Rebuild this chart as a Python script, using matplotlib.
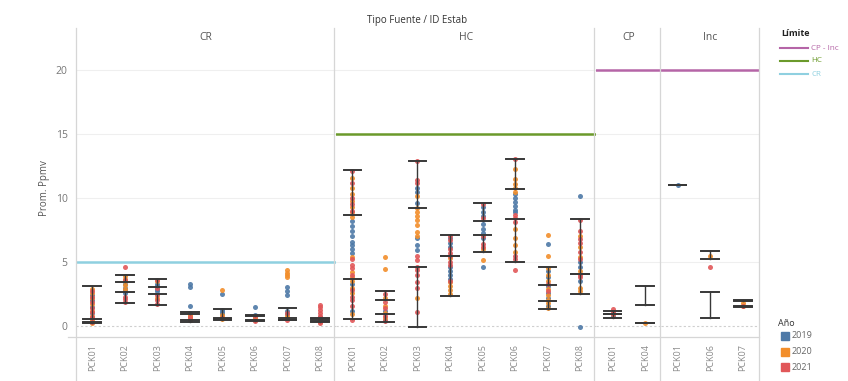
import matplotlib
matplotlib.use("Agg")
import matplotlib.pyplot as plt
from matplotlib.lines import Line2D
from matplotlib.patches import Rectangle

plt.rcParams['font.family'] = ['Open Sans', 'DejaVu Sans']

# ---------------------------------------------------------------- data
panels = ["CR", "HC", "CP", "Inc"]
stations = {
    "CR": ["PCK01", "PCK02", "PCK03", "PCK04", "PCK05", "PCK06", "PCK07", "PCK08"],
    "HC": ["PCK01", "PCK02", "PCK03", "PCK04", "PCK05", "PCK06", "PCK07", "PCK08"],
    "CP": ["PCK01", "PCK04"],
    "Inc": ["PCK01", "PCK06", "PCK07"],
}
years = ["2019", "2020", "2021"]
year_colors = ["#4e79a7", "#f28e2b", "#e15759"]

# limit per source type (ppmv)
limit_cr = 5.0
limit_hc = 15.0
limit_cp_inc = 20.0

# whisker / quartile levels per station
cr_whis_hi = [3.12, 3.98, 3.65, 1.12, 1.33, 0.86, 1.38, 0.65]
cr_q3 = [0.52, 3.46, 3.07, 0.90, 0.62, 0.78, 0.62, 0.55]
cr_q1 = [0.30, 2.63, 2.47, 0.45, 0.52, 0.45, 0.50, 0.42]
cr_whis_lo = [0.21, 1.82, 1.64, 0.34, 0.47, 0.36, 0.47, 0.30]

hc_whis_hi = [12.15, 2.76, 12.89, 7.11, 9.63, 13.05, 4.64, 8.33]
hc_q3 = [8.67, 2.03, 9.24, 5.50, 8.20, 10.68, 3.20, 4.06]
hc_q1 = [3.67, 0.94, 4.64, 5.50, 7.11, 8.36, 1.98, 4.06]
hc_whis_lo = [0.52, 0.34, -0.10, 2.37, 5.75, 4.97, 1.33, 2.48]

cp_whis_hi = [1.20, 3.12]
cp_q3 = [0.91, 1.64]
cp_q1 = [0.91, 0.25]
cp_whis_lo = [0.60, 0.25]

inc_whis_hi = [11.0, 5.86, 2.05]
inc_q3 = [11.0, 5.20, 1.98]
inc_q1 = [11.0, 2.66, 1.55]
inc_whis_lo = [11.0, 0.60, 1.50]

# measured averages per station and year
cr_2019 = {"PCK01": [0.3, 0.6, 1.0, 1.5, 2.0, 2.4], "PCK02": [2.6, 2.8, 3.0, 3.3],
           "PCK03": [2.7, 2.9, 3.1, 3.3], "PCK04": [3.25, 3.05, 1.56, 1.0, 0.9],
           "PCK05": [2.47, 1.25, 1.1, 0.95], "PCK06": [1.51, 0.85, 0.7, 0.6, 0.45],
           "PCK07": [3.07, 2.73, 2.42, 1.2, 0.9], "PCK08": [0.5, 0.7]}
cr_2020 = {"PCK01": [0.2, 0.45, 0.8, 1.2, 1.7, 2.2, 2.6, 2.9], "PCK02": [3.2, 3.5, 3.7, 3.9, 2.9],
           "PCK03": [2.2, 3.5], "PCK04": [0.45, 0.6, 0.75, 0.85, 0.55],
           "PCK05": [2.8, 0.55, 0.7, 0.85], "PCK06": [0.5, 0.65],
           "PCK07": [4.38, 4.17, 3.98, 3.85, 0.6, 0.8], "PCK08": [0.35]}
cr_2021 = {"PCK01": [0.35, 0.7, 1.1, 1.4, 1.9, 2.3, 2.7], "PCK02": [4.64, 1.9, 2.1, 2.3, 3.6],
           "PCK03": [1.7, 2.0, 2.4, 3.6, 3.0], "PCK04": [0.5, 0.7],
           "PCK05": [0.6], "PCK06": [0.4, 0.75],
           "PCK07": [0.5, 1.0], "PCK08": [1.64, 1.45, 1.25, 1.0, 0.8, 0.6, 0.4, 0.25]}

hc_2019 = {"PCK01": [8.2, 7.8, 7.4, 7.0, 6.6, 6.3, 6.0, 5.7, 3.3, 1.2], "PCK02": [0.5, 1.2],
           "PCK03": [10.76, 10.44, 9.6, 6.85, 6.3, 5.94], "PCK04": [6.9, 6.5, 6.2, 4.6, 4.3, 4.0, 3.7],
           "PCK05": [9.3, 8.9, 8.6, 8.0, 7.6, 7.3, 6.9, 4.64], "PCK06": [10.3, 10.0, 9.7, 9.4, 9.1, 8.9],
           "PCK07": [6.43, 4.3, 3.8, 3.1, 2.6, 2.2, 1.6], "PCK08": [10.18, -0.1, 5.0, 4.6, 3.5]}
hc_2020 = {"PCK01": [11.6, 10.8, 10.3, 9.8, 9.3, 8.9, 8.5, 5.4, 4.2, 3.8, 3.5, 3.0, 2.6, 0.9],
           "PCK02": [5.42, 4.43, 2.2, 1.6, 1.0, 0.6],
           "PCK03": [10.18, 9.24, 8.93, 8.6, 8.27, 7.9, 7.37, 7.0, 2.16],
           "PCK04": [3.4, 3.1, 2.8, 2.5, 5.3], "PCK05": [5.16, 6.0],
           "PCK06": [12.3, 11.5, 11.1, 10.8, 10.5, 7.6, 6.9, 6.3, 5.8],
           "PCK07": [7.11, 5.47, 4.5, 4.0, 3.5, 2.9, 2.4, 2.0, 1.8, 1.4],
           "PCK08": [7.0, 6.2, 5.4, 4.3, 3.0, 2.7]}
hc_2021 = {"PCK01": [12.1, 11.2, 10.0, 9.5, 9.0, 5.2, 4.8, 4.5, 4.0, 2.8, 2.3, 2.0, 1.6, 0.5],
           "PCK02": [2.5, 1.9, 1.4, 0.8, 0.4],
           "PCK03": [12.89, 11.38, 11.14, 5.5, 5.16, 4.64, 4.38, 3.99, 3.47, 2.95, 1.12],
           "PCK04": [7.0, 6.7, 6.0, 5.7, 5.5, 5.0, 4.8, 3.5], "PCK05": [9.5, 8.4, 7.0, 6.4, 6.2],
           "PCK06": [13.05, 8.7, 8.4, 8.1, 5.5, 5.2, 4.38], "PCK07": [3.3, 2.7],
           "PCK08": [8.3, 7.4, 6.8, 6.5, 5.8, 5.2, 4.0, 3.8]}

cp_2019 = {"PCK01": [0.8], "PCK04": []}
cp_2020 = {"PCK01": [0.9], "PCK04": [0.25]}
cp_2021 = {"PCK01": [1.3, 1.1, 0.95], "PCK04": []}

inc_2019 = {"PCK01": [11.0], "PCK06": [], "PCK07": []}
inc_2020 = {"PCK01": [], "PCK06": [5.5], "PCK07": [1.6, 1.8]}
inc_2021 = {"PCK01": [], "PCK06": [4.58], "PCK07": [1.55]}

panel_stats = {
    "CR": (cr_whis_hi, cr_q3, cr_q1, cr_whis_lo),
    "HC": (hc_whis_hi, hc_q3, hc_q1, hc_whis_lo),
    "CP": (cp_whis_hi, cp_q3, cp_q1, cp_whis_lo),
    "Inc": (inc_whis_hi, inc_q3, inc_q1, inc_whis_lo),
}
panel_points = {
    "CR": (cr_2019, cr_2020, cr_2021),
    "HC": (hc_2019, hc_2020, hc_2021),
    "CP": (cp_2019, cp_2020, cp_2021),
    "Inc": (inc_2019, inc_2020, inc_2021),
}
panel_limits = {
    "CR": (limit_cr, "#8fd0e0"),
    "HC": (limit_hc, "#6b9a2b"),
    "CP": (limit_cp_inc, "#b565a7"),
    "Inc": (limit_cp_inc, "#b565a7"),
}

# ---------------------------------------------------------------- figure
W, H = 848, 381
fig = plt.figure(figsize=(W / 100, H / 100), dpi=100)

x_left, x_right = 76, 759
y_top, y_bottom = 28, 337
gs = fig.add_gridspec(1, 4, width_ratios=[8, 8, 2, 3], wspace=0,
                      left=x_left / W, right=x_right / W,
                      bottom=1 - y_bottom / H, top=1 - y_top / H)

ymin, ymax = -0.86, 23.28
line_c = "#383838"
cap = 0.27

axes = []
for k, p in enumerate(panels):
    ax = fig.add_subplot(gs[0, k])
    axes.append(ax)
    names = stations[p]
    n = len(names)
    ax.set_xlim(-0.5, n - 0.5)
    ax.set_ylim(ymin, ymax)
    for s in ax.spines.values():
        s.set_visible(False)

    # grid and zero line
    for gy in [5, 10, 15, 20]:
        ax.axhline(gy, color="#efefef", lw=0.8, zorder=0)
    ax.axhline(0, color="#cfcfcf", lw=0.8, ls=(0, (2, 2)), zorder=0)

    # limit reference line
    lim, lc = panel_limits[p]
    ax.axhline(lim, color=lc, lw=1.8, zorder=1)

    # points per year
    for yi, pts in enumerate(panel_points[p]):
        for i, st in enumerate(names):
            vals = pts.get(st, [])
            if vals:
                ax.scatter([i] * len(vals), vals, s=13, color=year_colors[yi],
                           linewidths=0, alpha=0.9, zorder=2)

    # whiskers and quartile caps
    whi, q3, q1, wlo = panel_stats[p]
    for i in range(n):
        ax.plot([i, i], [q3[i], whi[i]], color=line_c, lw=1.0, zorder=3)
        ax.plot([i, i], [wlo[i], q1[i]], color=line_c, lw=1.0, zorder=3)
        for lvl in (whi[i], q3[i], q1[i], wlo[i]):
            ax.plot([i - cap, i + cap], [lvl, lvl], color=line_c, lw=1.4, zorder=3)

    ax.set_xticks(range(n))
    ax.set_xticklabels(names, rotation=90, fontsize=6.5, color="#8a8a8a")
    ax.tick_params(axis="x", length=0, pad=5)
    ax.set_yticks([0, 5, 10, 15, 20])
    if k == 0:
        ax.tick_params(axis="y", length=0, pad=6, labelsize=7.5, labelcolor="#777777")
    else:
        ax.tick_params(axis="y", left=False, labelleft=False)

    ax.text(0.5, 0.968, p, transform=ax.transAxes, ha="center", va="center",
            fontsize=7.5, color="#555555")

# pane separators reaching into the label band
for xp in [x_left, 334, 594, 660, x_right]:
    fig.add_artist(Line2D([xp / W, xp / W], [0, 1 - y_top / H], transform=fig.transFigure,
                          color="#d6d6d6", lw=0.9))
fig.add_artist(Line2D([68 / W, x_right / W], [1 - y_bottom / H] * 2, transform=fig.transFigure,
                      color="#d6d6d6", lw=0.9))

# titles
fig.text((x_left + x_right) / 2 / W, 1 - 20 / H, "Tipo Fuente / ID Estab", ha="center",
         va="center", fontsize=7, color="#333333")
fig.text(45 / W, 1 - 188 / H, "Prom. Ppmv", rotation=90, ha="center", va="center",
         fontsize=7, color="#555555")

# limit legend
fig.text(781 / W, 1 - 34 / H, "Límite", ha="left", va="center", fontsize=6.5,
         color="#222222", fontweight="bold")
for yy, lab, col in [(48, "CP - Inc", "#b565a7"), (61, "HC", "#6b9a2b"), (74, "CR", "#8fd0e0")]:
    fig.add_artist(Line2D([780 / W, 808 / W], [1 - yy / H] * 2, transform=fig.transFigure,
                          color=col, lw=1.5))
    fig.text(811 / W, 1 - yy / H, lab, ha="left", va="center", fontsize=5.8, color=col)

# year legend
fig.text(778 / W, 1 - 324 / H, "Año", ha="left", va="center", fontsize=6.5, color="#333333")
for yy, lab, col in zip([336, 352, 367], years, year_colors):
    fig.add_artist(Rectangle((781 / W, 1 - (yy + 4) / H), 8 / W, 8 / H,
                             transform=fig.transFigure, color=col))
    fig.text(792 / W, 1 - yy / H, lab, ha="left", va="center", fontsize=6.5, color="#666666")

fig.savefig("out.png", dpi=100)
